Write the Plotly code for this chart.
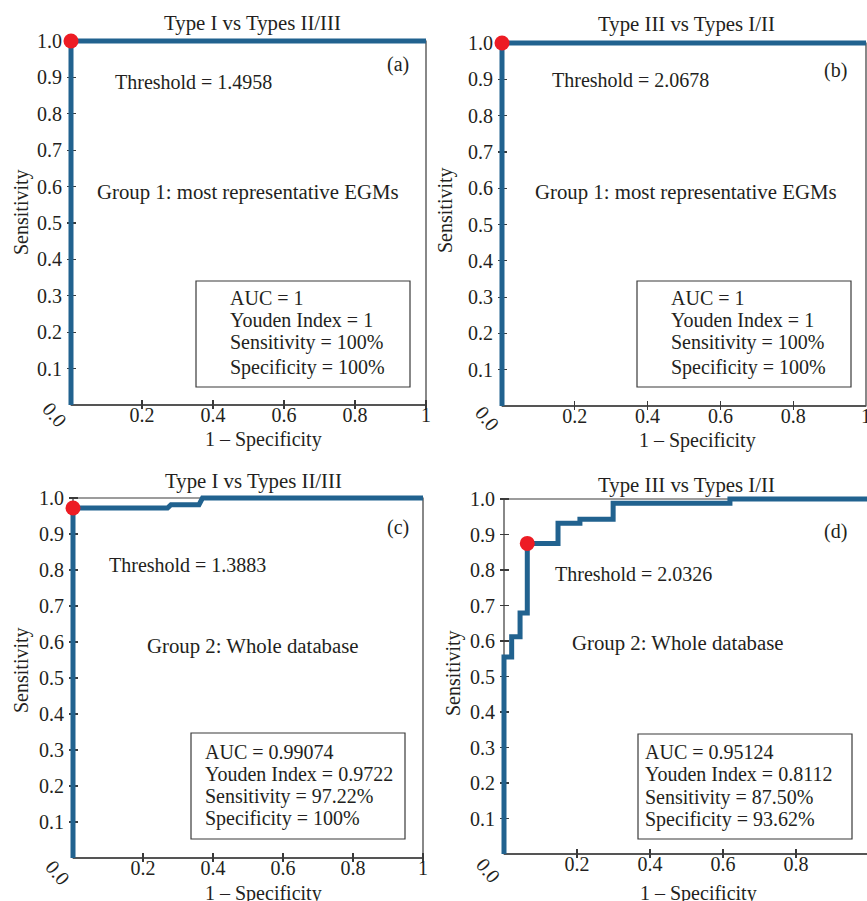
import plotly.graph_objects as go

W, H = 867, 901          # browser window == figure size
FONT = "Liberation Serif, Times New Roman, serif"
TXT = "#231F20"
BLUE = "#21628F"
RED = "#ED1C24"
AXC = "#3a3a3a"

# ---- data ----
titles = ["Type I vs Types II/III", "Type III vs Types I/II",
          "Type I vs Types II/III", "Type III vs Types I/II"]
panel_tags = ["(a)", "(b)", "(c)", "(d)"]
thresholds = ["Threshold = 1.4958", "Threshold = 2.0678",
              "Threshold = 1.3883", "Threshold = 2.0326"]
groups = ["Group 1: most representative EGMs", "Group 1: most representative EGMs",
          "Group 2: Whole database", "Group 2: Whole database"]
stats = [
    ["AUC = 1", "Youden Index = 1", "Sensitivity = 100%", "Specificity = 100%"],
    ["AUC = 1", "Youden Index = 1", "Sensitivity = 100%", "Specificity = 100%"],
    ["AUC = 0.99074", "Youden Index = 0.9722", "Sensitivity = 97.22%", "Specificity = 100%"],
    ["AUC = 0.95124", "Youden Index = 0.8112", "Sensitivity = 87.50%", "Specificity = 93.62%"],
]

fpr_a = [0, 0, 1]
tpr_a = [0, 1, 1]
fpr_b = [0, 0, 1]
tpr_b = [0, 1, 1]
fpr_c = [0, 0, 0.27, 0.28, 0.36, 0.37, 1]
tpr_c = [0, 0.9722, 0.9722, 0.9815, 0.9815, 1, 1]
fpr_d = [0, 0, 0.021, 0.021, 0.044, 0.044, 0.0638, 0.0638, 0.148, 0.148,
         0.208, 0.208, 0.299, 0.299, 0.619, 0.619, 1]
tpr_d = [0, 0.555, 0.555, 0.612, 0.612, 0.679, 0.679, 0.875, 0.875, 0.932,
         0.932, 0.943, 0.943, 0.988, 0.988, 1, 1]

opt_fpr = [0, 0, 0, 0.0638]
opt_tpr = [1, 1, 0.9722, 0.875]

ytick_vals = [0.1, 0.2, 0.3, 0.4, 0.5, 0.6, 0.7, 0.8, 0.9, 1.0]
ytick_text = ["0.1", "0.2", "0.3", "0.4", "0.5", "0.6", "0.7", "0.8", "0.9", "1.0"]
xtick_vals = [0.2, 0.4, 0.6, 0.8, 1.0]
xtick_text = ["0.2", "0.4", "0.6", "0.8", "1"]

curves = [(fpr_a, tpr_a), (fpr_b, tpr_b), (fpr_c, tpr_c), (fpr_d, tpr_d)]

# ---- layout geometry (window pixels) ----
# axes box: left(x=0), right(x=xmax), top(y=1), bottom(y=0), xmax
areas = [
    (71, 426, 41, 405, 1.0),
    (502, 866, 43, 406, 1.0),
    (73, 423, 498, 858, 1.0),
    (504, 869, 499, 854, 1.0),
]
layout_px = [
    dict(title=(252, 23), tag=(398, 64), thr=(113, 82), grp=(248, 192),
         box=(196, 410, 281, 387), boxtx=228, lines=[298, 320, 343, 367],
         ylab=(21, 212), xlab=(263, 439), zero=(55, 415)),
    dict(title=(686, 24), tag=(835, 70), thr=(550, 80), grp=(686, 192),
         box=(637, 851, 281, 387), boxtx=669, lines=[298, 320, 343, 367],
         ylab=(445, 210), xlab=(697, 440), zero=(487, 418)),
    dict(title=(253, 481), tag=(398, 527), thr=(107, 565), grp=(253, 646),
         box=(191, 405, 733, 839), boxtx=203, lines=[752, 774, 796, 818],
         ylab=(21, 670), xlab=(263, 893), zero=(58, 873)),
    dict(title=(686, 485), tag=(835, 531), thr=(553, 574), grp=(678, 643),
         box=(638, 852, 734, 839), boxtx=643, lines=[752, 774, 797, 819],
         ylab=(453, 673), xlab=(698, 893), zero=(488, 870)),
]
PAD = 4  # px of room around the axes so the thick curve is not clipped


def px(x):
    return x / W


def py(y):
    return 1 - y / H


fig = go.Figure()
annotations = []
shapes = []
font = dict(family=FONT, size=20, color=TXT)
font_big = dict(family=FONT, size=20.8, color=TXT)

for i, ((fx, ty), (l, r, t, b, xmax), L) in enumerate(zip(curves, areas, layout_px)):
    n = "" if i == 0 else str(i + 1)
    xa, ya = "x" + n, "y" + n
    sx = (r - l) / xmax
    sy = (b - t)
    dl, dr = l - PAD, min(r + PAD, W)
    dt, db = t - PAD, b + PAD
    xr = [(dl - l) / sx, (dr - l) / sx]
    yr = [-(db - b) / sy, 1 + (t - dt) / sy]

    fig.add_trace(go.Scatter(x=fx, y=ty, mode="lines", xaxis=xa, yaxis=ya,
                             line=dict(color=BLUE, width=5),
                             cliponaxis=False, showlegend=False, hoverinfo="skip"))
    fig.add_trace(go.Scatter(x=[opt_fpr[i]], y=[opt_tpr[i]], mode="markers",
                             xaxis=xa, yaxis=ya,
                             marker=dict(color=RED, size=15, line=dict(width=0)),
                             cliponaxis=False, showlegend=False, hoverinfo="skip"))
    axcommon = dict(showgrid=False, zeroline=False, showline=False,
                    ticks="inside", ticklen=PAD + 5, tickwidth=1.2,
                    tickcolor=AXC, tickfont=font, layer="below traces",
                    fixedrange=True, automargin=False, ticklabeloverflow="allow")
    fig.update_layout(**{
        "xaxis" + n: dict(domain=[px(dl), px(dr)], range=xr, anchor=ya,
                          tickmode="array", tickvals=xtick_vals, ticktext=xtick_text,
                          ticklabelstandoff=-8, **axcommon),
        "yaxis" + n: dict(domain=[py(db), py(dt)], range=yr, anchor=xa,
                          tickmode="array", tickvals=ytick_vals, ticktext=ytick_text,
                          ticklabelstandoff=4, **axcommon),
    })
    # axes frame
    shapes.append(dict(type="rect", xref=xa, yref=ya, x0=0, x1=xmax, y0=0, y1=1,
                       line=dict(color=AXC, width=1.2), layer="below"))
    shapes.append(dict(type="line", xref=xa, yref=ya, x0=0, x1=xmax, y0=0, y1=0,
                       line=dict(color="#555555", width=2), layer="below"))

    def ann(text, pos, xanchor="center", angle=0, f=font):
        annotations.append(dict(text=text, x=px(pos[0]), y=py(pos[1]), xref="paper",
                                yref="paper", xanchor=xanchor, yanchor="middle",
                                showarrow=False, font=f, textangle=angle))

    ann(titles[i], L["title"], f=font_big)
    ann(panel_tags[i], L["tag"])
    ann(thresholds[i], L["thr"], xanchor="left")
    ann(groups[i], L["grp"], f=font_big)
    ann("Sensitivity", L["ylab"], angle=-90)
    ann("1 – Specificity", L["xlab"])
    ann("0.0", L["zero"], angle=50)
    bx0, bx1, by0, by1 = L["box"]
    shapes.append(dict(type="rect", xref="paper", yref="paper",
                       x0=px(bx0), x1=px(bx1), y0=py(by1), y1=py(by0),
                       line=dict(color=AXC, width=1.2), fillcolor="rgba(0,0,0,0)"))
    for s, ly in zip(stats[i], L["lines"]):
        ann(s, (L["boxtx"], ly), xanchor="left")

fig.update_layout(width=W, height=H, margin=dict(l=0, r=0, t=0, b=0, pad=0),
                  paper_bgcolor="white", plot_bgcolor="white",
                  annotations=annotations, shapes=shapes, font=font)

# place the figure flush with the window (no default page margin / scrollbars)
page_css = ("document.body.style.margin='0';"
            "document.body.style.padding='0';"
            "document.documentElement.style.overflow='hidden';")
fig.write_html("out.html", post_script=page_css,
               config={"displayModeBar": False, "staticPlot": True})
